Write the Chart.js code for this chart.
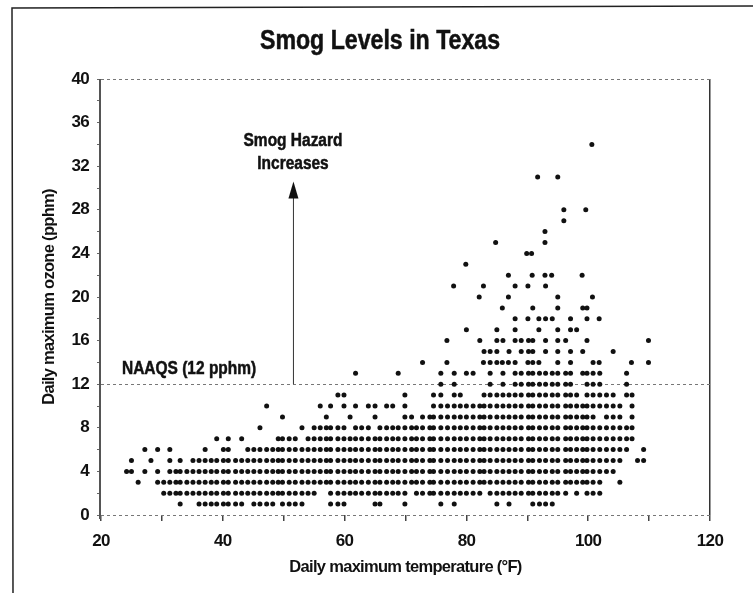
<!DOCTYPE html>
<html>
<head>
<meta charset="utf-8">
<title>Smog Levels in Texas</title>
<script src="https://cdn.jsdelivr.net/npm/chart.js@4"></script>
<style>
  html, body { margin: 0; padding: 0; background: #fff; }
  canvas { display: block; }
</style>
</head>
<body>
<canvas id="smog" width="754" height="593"></canvas>
<script>
// Temperatures (F) of the dots, one list per ozone level (pphm)
const temps1 = [33,36.1,37.1,38.1,39,40.1,40.9,42.1,43.1,45.1,46.1,47.2,48.2,49.8,50.9,51.9,53,57.7,58.9,59.9,65,65.8,69.9,75.8,78,85,87,90.9,92,93,94.1];
const temps2 = [30.3,31.3,32.3,33,34.1,35.1,36.1,37.1,38.1,39,40.1,40.9,42.1,43.1,44.1,45.1,46.1,47.2,48.2,49.1,49.8,50.9,51.9,53,54,55,57.7,58.9,59.9,60.9,61.8,62.8,63.9,65,65.8,66.9,67.9,68.8,69.9,71.8,72.8,74,74.6,75.8,76.9,78,79,80,81.1,82.2,83.9,85,86,87,88,89,90.2,90.9,92,93,94.1,95,96.3,98.1,99.8,100.8,101.9];
const temps3 = [26.1,29.3,30.3,31.3,32.3,33,34.1,35.1,36.1,37.1,38.1,39,40.1,40.9,42.1,43.1,44.1,45.1,46.1,47.2,48.2,49.1,49.8,50.9,51.9,53,54,55,56,57,57.7,58.9,59.9,60.9,61.8,62.8,63.9,65,65.8,66.9,67.9,68.8,69.9,71,71.8,72.8,74,74.6,75.8,76.9,78,79,80,81.1,82.2,82.9,83.9,85,86,87,88,89,90.2,90.9,92,93,94.1,95,96.3,97.1,98.1,99.1,99.8,100.8,101.9,105.2];
const temps4 = [24.2,25,27.2,29.3,31.3,32.3,33,34.1,35.1,36.1,37.1,38.1,39,40.1,40.9,42.1,43.1,44.1,45.1,46.1,47.2,48.2,49.1,49.8,50.9,51.9,53,54,55,56,57,57.7,58.9,59.9,60.9,61.8,62.8,63.9,65,65.8,66.9,67.9,68.8,69.9,71,71.8,72.8,74,74.6,75.8,76.9,78,79,80,81.1,82.2,82.9,83.9,85,86,87,88,89,90.2,90.9,92,93,94.1,95,96.3,97.1,98.1,99.1,99.8,100.8,101.9,103,104.1];
const temps5 = [25,28.2,31.3,33,35.1,36.1,37.1,38.1,39,40.1,40.9,42.1,43.1,44.1,45.1,46.1,47.2,48.2,49.1,49.8,50.9,51.9,53,54,55,56,57,57.7,58.9,59.9,60.9,61.8,62.8,63.9,65,65.8,66.9,67.9,68.8,69.9,71,71.8,72.8,74,74.6,75.8,76.9,78,79,80,81.1,82.2,82.9,83.9,85,86,87,88,89,90.2,90.9,92,93,94.1,95,96.3,97.1,98.1,99.1,99.8,100.8,101.9,103,104.1,105.2,108.1,109.1];
const temps6 = [27.2,29.3,31.3,37.1,40.1,40.9,44.1,45.1,46.1,47.2,48.2,49.1,49.8,50.9,51.9,53,54,55,56,57,57.7,58.9,59.9,60.9,61.8,62.8,63.9,65,65.8,66.9,67.9,68.8,69.9,71,71.8,72.8,74,74.6,75.8,76.9,78,79,80,81.1,82.2,82.9,83.9,85,86,87,88,89,90.2,90.9,92,93,94.1,95,96.3,97.1,98.1,99.1,99.8,100.8,101.9,103,104.1,105.2,106.3,109.1];
const temps7 = [39,40.9,43.1,49.1,49.8,50.9,51.9,54,55,56,57,57.7,58.9,59.9,60.9,61.8,62.8,63.9,65,65.8,66.9,67.9,68.8,69.9,71,71.8,72.8,74,74.6,75.8,76.9,78,79,80,81.1,82.2,82.9,83.9,85,86,87,88,89,90.2,90.9,92,93,94.1,95,96.3,97.1,98.1,99.1,99.8,100.8,101.9,103,104.1,105.2,106.3,107.2];
const temps8 = [46.1,53,55,56,57,57.7,58.9,59.9,61.8,62.8,63.9,65.8,66.9,67.9,68.8,69.9,71,71.8,72.8,74,74.6,75.8,76.9,78,79,80,81.1,82.2,82.9,83.9,85,86,87,88,89,90.2,90.9,92,93,94.1,95,96.3,97.1,98.1,99.1,99.8,100.8,101.9,103,104.1,105.2,106.3,107.2];
const temps9 = [49.8,57,60.9,65,69.9,71,72.8,74,74.6,75.8,76.9,78,79,80,81.1,82.2,82.9,83.9,85,86,87,88,89,90.2,90.9,92,93,94.1,95,96.3,97.1,98.1,99.1,99.8,100.8,103,104.1,105.2,107.2];
const temps10 = [47.2,56,57.7,59.9,61.8,63.9,65,66.9,67.9,69.9,74.6,75.8,76.9,78,79,80,81.1,82.2,82.9,83.9,85,86,87,88,89,90.2,90.9,92,93,94.1,95,96.3,97.1,98.1,99.1,99.8,100.8,101.9,103,104.1,105.2,107.2];
const temps11 = [58.9,59.9,69.9,74.6,75.8,78,79,82.9,83.9,85,86,87,88,89,90.2,90.9,92,93,94.1,95,96.3,97.1,98.1,99.8,100.8,101.9,103,104.1,106.3,107.2];
const temps12 = [75.8,78,83.9,86,88,89,90.2,90.9,92,93,94.1,95,96.3,97.1,99.8,100.8,101.9,106.3];
const temps13 = [61.8,68.8,75.8,78,80,81.1,83.9,86,88,89,90.2,90.9,92,93,94.1,95,96.3,97.1,99.1,99.8,100.8,101.9,106.3];
const temps14 = [72.8,76.8,82.8,83.9,85,85.9,86.9,88,90.1,90.9,91.9,95,97.1,100.8,101.8,107.1,109.9];
const temps15 = [82.9,83.9,85,87,89,90.2,90.9,93,95,97.1,99.1,104.1];
const temps16 = [76.8,82.2,85,86,88,89,90.2,90.9,93,95,96.3,99.8,109.9];
const temps17 = [80,85,88,91.9,95,97.1,98.1];
const temps18 = [88,90.1,91.9,93,94.1,97.1,99.8,101.8];
const temps19 = [85.9,90.9,95,99.1,99.8];
const temps20 = [82.1,86.9,95,100.7];
const temps21 = [77.9,82.8,88,90.1,93];
const temps22 = [86.9,90.8,92.9,94,99];
const temps23 = [79.9];
const temps24 = [89.9,90.7];
const temps25 = [84.8,92.9];
const temps26 = [92.9];
const temps27 = [96];
const temps28 = [96,99.6];
const temps31 = [91.7,95];
const temps34 = [100.6];

const ozoneLevels = [1,2,3,4,5,6,7,8,9,10,11,12,13,14,15,16,17,18,19,20,21,22,23,24,25,26,27,28,31,34];
const tempRows = [temps1,temps2,temps3,temps4,temps5,temps6,temps7,temps8,temps9,temps10,temps11,temps12,temps13,temps14,temps15,temps16,temps17,temps18,temps19,temps20,temps21,temps22,temps23,temps24,temps25,temps26,temps27,temps28,temps31,temps34];

const xLabelled = [20,40,60,80,100,120];
const yLabelled = [0,4,8,12,16,20,24,28,32,36,40];
const yLinesDrawn = [0,12,40];

const points = [];
tempRows.forEach(function (row, i) {
  row.forEach(function (t) {
    points.push({ x: t, y: ozoneLevels[i] });
  });
});

const FONT = '"Liberation Sans", sans-serif';
const INK = '#111';

// the scan's lettering is a narrow heavy face, none is installed so squeeze it
function narrowText(ctx, text, x, y, sx, align) {
  ctx.save();
  ctx.translate(x, y);
  ctx.scale(sx, 1);
  ctx.textAlign = align;
  ctx.textBaseline = 'middle';
  ctx.strokeStyle = INK;
  ctx.lineWidth = 0.5;
  ctx.strokeText(text, 0, 0);
  ctx.fillText(text, 0, 0);
  ctx.restore();
}

const notesPlugin = {
  id: 'notes',
  beforeDraw: function (chart) {
    chart.ctx.letterSpacing = '-0.7px';
  },
  afterDraw: function (chart) {
    const ctx = chart.ctx;
    const xs = chart.scales.x;
    const ys = chart.scales.y;
    ctx.save();
    ctx.letterSpacing = '0px';

    // scan frame
    ctx.strokeStyle = '#222';
    ctx.lineWidth = 1.5;
    ctx.beginPath();
    ctx.moveTo(13, 593);
    ctx.lineTo(12, 8);
    ctx.lineTo(753, 6);
    ctx.stroke();

    // left axis line
    const left = xs.getPixelForValue(20);
    ctx.strokeStyle = '#555';
    ctx.lineWidth = 2;
    ctx.beginPath();
    ctx.moveTo(Math.round(left) - 1, ys.getPixelForValue(40));
    ctx.lineTo(Math.round(left) - 1, ys.getPixelForValue(0) + 4);
    ctx.stroke();

    // arrow
    const ax = xs.getPixelForValue(51.6);
    const y0 = ys.getPixelForValue(12);
    const y1 = ys.getPixelForValue(30.6);
    ctx.strokeStyle = '#333';
    ctx.lineWidth = 1;
    ctx.beginPath();
    ctx.moveTo(ax, y0);
    ctx.lineTo(ax, y1 + 10);
    ctx.stroke();
    ctx.fillStyle = INK;
    ctx.beginPath();
    ctx.moveTo(ax, y1);
    ctx.lineTo(ax + 5, y1 + 17);
    ctx.lineTo(ax - 5, y1 + 17);
    ctx.closePath();
    ctx.fill();

    ctx.font = 'bold 27px ' + FONT;
    narrowText(ctx, 'Smog Levels in Texas', 380, 42, 0.857, 'center');
    ctx.font = 'bold 18px ' + FONT;
    narrowText(ctx, 'Smog Hazard', 293, 141, 0.86, 'center');
    narrowText(ctx, 'Increases', 293, 164, 0.86, 'center');
    narrowText(ctx, 'NAAQS (12 pphm)', 122, 369, 0.86, 'left');
    ctx.restore();
  }
};

new Chart(document.getElementById('smog'), {
  type: 'scatter',
  data: {
    datasets: [{
      label: 'Ozone',
      data: points,
      pointRadius: 2.5,
      pointBackgroundColor: INK,
      pointBorderWidth: 0
    }]
  },
  plugins: [notesPlugin],
  options: {
    responsive: false,
    animation: false,
    layout: { padding: { left: 40, right: 44, top: 79, bottom: 16 } },
    plugins: {
      legend: { display: false },
      tooltip: { enabled: false },
      title: { display: false }
    },
    scales: {
      x: {
        type: 'linear',
        min: 20,
        max: 120,
        afterFit: function (scale) { scale.height = 62; },
        border: { display: false },
        grid: {
          color: function (c) { return c.tick.value === 120 ? '#333' : 'transparent'; },
          tickColor: '#444',
          tickLength: 6,
          lineWidth: 1.5
        },
        ticks: {
          stepSize: 10,
          color: INK,
          maxRotation: 0,
          autoSkip: false,
          font: { family: FONT, size: 17, weight: 'bold' },
          padding: 10,
          callback: function (v) { return xLabelled.indexOf(v) >= 0 ? String(v) : ''; }
        },
        title: {
          display: true,
          text: 'Daily maximum temperature (°F)',
          color: INK,
          font: { family: FONT, size: 16.5, weight: 'bold' },
          padding: 0
        }
      },
      y: {
        type: 'linear',
        min: 0,
        max: 40,
        afterFit: function (scale) { scale.width = 61; },
        border: { display: false, dash: [3, 3] },
        grid: {
          color: function (c) { return yLinesDrawn.indexOf(c.tick.value) >= 0 ? '#777' : 'transparent'; },
          tickColor: '#666',
          tickLength: 4,
          tickBorderDash: [2, 2],
          lineWidth: 1
        },
        ticks: {
          stepSize: 2,
          color: INK,
          autoSkip: false,
          font: { family: FONT, size: 17, weight: 'bold' },
          padding: 8,
          callback: function (v) { return yLabelled.indexOf(v) >= 0 ? String(v) : ''; }
        },
        title: {
          display: true,
          text: 'Daily maximum ozone (pphm)',
          color: INK,
          font: { family: FONT, size: 16.5, weight: 'bold' },
          padding: 0
        }
      }
    }
  }
});
</script>
</body>
</html>
